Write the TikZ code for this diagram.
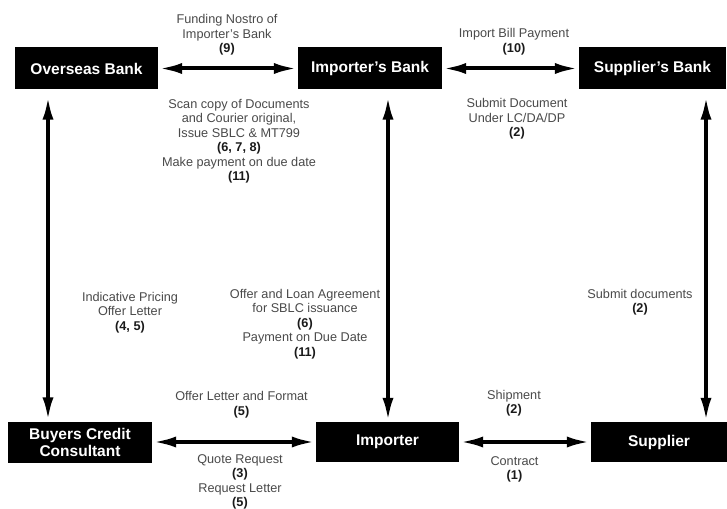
\documentclass[tikz,border=0pt]{standalone}
\usepackage{fontspec}
\setmainfont{Liberation Sans}
\usetikzlibrary{arrows.meta}
\definecolor{lbl}{HTML}{4A4A4A}
\definecolor{num}{HTML}{1A1A1A}
\newcommand\numlab[1]{\textbf{\color{num}(#1)}}
\begin{document}
\begin{tikzpicture}[x=1pt,y=-1pt,
  box/.style={fill=black, text=white, font=\fontsize{15.5}{17}\selectfont\bfseries, inner sep=0pt, align=center},
  lab/.style={text=lbl, font=\fontsize{12.7}{14.5}\selectfont, align=center, inner sep=0pt},
  link/.style={line width=4pt, {Latex[length=24pt,width=11pt]}-{Latex[length=24pt,width=11pt]}},
]
\useasboundingbox[fill=white] (0,0) rectangle (727,508);

% boxes
\node[box, minimum width=143pt, minimum height=42pt] (ob)  at (86.5,68.5) {Overseas Bank};
\node[box, minimum width=144pt, minimum height=42pt] (ib)  at (370,68.5) {Importer’s Bank};
\node[box, minimum width=147pt, minimum height=42pt] (sb)  at (652.5,68.5) {Supplier’s Bank};
\node[box, minimum width=144pt, minimum height=41pt] (bcc) at (80,442) {Buyers Credit\\Consultant};
\node[box, minimum width=143pt, minimum height=40pt] (imp) at (387.5,442) {Importer};
\node[box, minimum width=136pt, minimum height=40pt] (sup) at (659,442) {Supplier};

% connectors
\draw[link] (ob.east) -- (ib.west);
\draw[link] (ib.east) -- (sb.west);
\draw[link] (bcc.east) -- (imp.west);
\draw[link] (imp.east) -- (sup.west);
\draw[link] ([xshift=-38.5pt,yshift=-6pt]ob.south) -- ([xshift=-32pt]bcc.north);
\draw[link] ([xshift=18pt,yshift=-6pt]ib.south) -- ([xshift=0.5pt]imp.north);
\draw[link] ([xshift=53.5pt,yshift=-6pt]sb.south) -- ([xshift=47pt]sup.north);

% labels
\node[lab] (l9) at (227,35) {Funding Nostro of\\Importer’s Bank\\\numlab{9}};
\node[lab] (lscan) at (239,141) {Scan copy of Documents\\and Courier original,\\Issue SBLC \& MT799\\\numlab{6, 7, 8}\\Make payment on due date\\\numlab{11}};
\node[lab] (l10) at (514,41.5) {Import Bill Payment\\\numlab{10}};
\node[lab] (lsubd) at (517,119) {Submit Document\\Under LC/DA/DP\\\numlab{2}};
\node[lab] (lind) at (130,312.5) {Indicative Pricing\\Offer Letter\\\numlab{4, 5}};
\node[lab] (loffer) at (305,324) {Offer and Loan Agreement\\for SBLC issuance\\\numlab{6}\\Payment on Due Date\\\numlab{11}};
\node[lab] (lsubs) at (640,302) {Submit documents\\\numlab{2}};
\node[lab] (lofl) at (241.5,404.5) {Offer Letter and Format\\\numlab{5}};
\node[lab] (lquote) at (240,482) {Quote Request\\\numlab{3}\\Request Letter\\\numlab{5}};
\node[lab] (lship) at (514,403) {Shipment\\\numlab{2}};
\node[lab] (lcon) at (514.5,469.5) {Contract\\\numlab{1}};
\end{tikzpicture}
\end{document}
